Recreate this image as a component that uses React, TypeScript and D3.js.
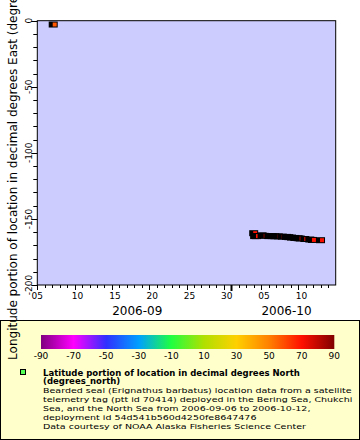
import React from "react";
import * as d3 from "d3";

// ---- data ----
const times = [
  "2006-09-07T08:00Z",
  "2006-10-04T05:00Z",
  "2006-10-04T08:00Z",
  "2006-10-04T14:00Z",
  "2006-10-05T08:00Z",
  "2006-10-05T15:00Z",
  "2006-10-06T05:30Z",
  "2006-10-06T16:30Z",
  "2006-10-07T01:00Z",
  "2006-10-07T12:00Z",
  "2006-10-08T01:00Z",
  "2006-10-08T14:30Z",
  "2006-10-08T22:00Z",
  "2006-10-09T06:40Z",
  "2006-10-09T17:20Z",
  "2006-10-10T04:00Z",
  "2006-10-10T10:30Z",
  "2006-10-11T01:30Z",
  "2006-10-11T17:30Z",
  "2006-10-12T02:00Z",
  "2006-10-13T04:00Z",
];
const lons = [
  -2.9, -160.8, -163.0, -163.0, -162.4, -162.8, -163.0, -163.0, -163.1, -163.2,
  -163.4, -163.6, -163.8, -164.1, -164.4, -164.6, -164.8, -165.2, -165.6, -165.9, -166.1,
];
const lats = [
  57.5, 69.6, 69.8, 69.7, 69.9, 70.0, 70.1, 70.0, 70.2, 70.3,
  70.4, 70.3, 70.5, 70.6, 70.4, 70.5, 70.6, 70.7, 70.8, 70.6, 70.9,
];

const colorStops = [
  "#800080", "#ff00ff", "#3030ff", "#00a0ff", "#20ff40",
  "#b0e000", "#ffd000", "#ff8000", "#ff1000", "#800000",
];
const colorTickValues = [-90, -70, -50, -30, -10, 10, 30, 50, 70, 90];
const yLabelValues = [0, -50, -100, -150, -200];
const xLabelDays = [5, 10, 15, 20, 25, 30];

const legendTitle = ["Latitude portion of location in decimal degrees North", "(degrees_north)"];
const legendLines = [
  "Bearded seal (Erignathus barbatus) location data from a satellite",
  "telemetry tag (ptt id 70414) deployed in the Bering Sea, Chukchi",
  "Sea, and the North Sea from 2006-09-06 to 2006-10-12,",
  "deployment id 54d541b560d4250fe8647476",
  "Data courtesy of NOAA Alaska Fisheries Science Center",
];
const yTitle = "Longitude portion of location in decimal degrees East (degrees_east)";

const FONT = "DejaVu Sans";

export default function App() {
  const W = 360, H = 440;
  const L = 37.3, R = 335.7, T = 20.7, B = 285;
  const x = d3.scaleUtc()
    .domain([new Date("2006-09-05T00:00Z"), new Date("2006-10-15T00:00Z")])
    .range([L, R]);
  const y = d3.scaleLinear().domain([-200, 0]).range([B, T]);

  const colorDomain = d3.range(colorStops.length).map(i => -90 + (180 * i) / (colorStops.length - 1));
  const color = d3.scaleLinear<string>().domain(colorDomain).range(colorStops).interpolate(d3.interpolateRgb).clamp(true);

  const cbL = 41, cbR = 334.3, cbT = 335, cbB = 349;
  const cbx = d3.scaleLinear().domain([-90, 90]).range([cbL, cbR]);

  const days = d3.utcDay.range(x.domain()[0], x.domain()[1]);
  const yMinor = d3.range(-200, 1, 10);

  const parse = (s: string) => new Date(s);
  const pts = times.map((t, i) => ({ t: parse(t), lon: lons[i], lat: lats[i] }));

  const months = d3.utcMonth.range(d3.utcMonth.floor(x.domain()[0]), x.domain()[1]);
  const fmtMonth = d3.utcFormat("%Y-%m");

  const gradId = "cbgrad";

  return (
    <svg width={W} height={H} style={{ position: "absolute", left: 0, top: 0, background: "#fff" }} fontFamily={FONT}>
      <defs>
        <linearGradient id={gradId} x1="0" x2="1" y1="0" y2="0">
          {colorStops.map((c, i) => (
            <stop key={i} offset={i / (colorStops.length - 1)} stopColor={c} />
          ))}
        </linearGradient>
        <clipPath id="plotclip">
          <rect x={L} y={T} width={R - L} height={B - T} />
        </clipPath>
      </defs>

      {/* plot area */}
      <rect x={L} y={T} width={R - L} height={B - T} fill="#ccccff" />

      {/* markers */}
      <g clipPath="url(#plotclip)">
        {pts.map((p, i) => {
          const cx = x(p.t), cy = y(p.lon);
          return (
            <g key={i}>
              <rect x={cx - 6} y={cy - 3} width={9} height={6} fill="#000" />
              <rect x={cx - 2} y={cy - 2} width={4} height={4} fill={color(p.lat)} />
            </g>
          );
        })}
      </g>

      <rect x={L} y={T} width={R - L} height={B - T} fill="none" stroke="#000" strokeWidth={1} />

      {/* x axis ticks */}
      {days.map((d, i) => {
        const xd = Math.round(x(d)) + 0.5;
        const dom = d.getUTCDate();
        const isMonth = dom === 1;
        const major = xLabelDays.includes(dom);
        const len = isMonth ? 6 : major ? 5 : 3;
        return (
          <line key={i} x1={xd} x2={xd} y1={B} y2={B + len} stroke="#000" strokeWidth={isMonth ? 2 : 1} />
        );
      })}
      {days.filter(d => xLabelDays.includes(d.getUTCDate())).map((d, i) => (
        <text key={i} x={x(d) + (i === 0 ? 0 : 3)} y={299} fontSize={9} textAnchor="middle" fill="#000">
          {d3.utcFormat("%d")(d)}
        </text>
      ))}
      {months.map((m, i) => {
        const a = Math.max(x(m), L);
        const b = Math.min(x(d3.utcMonth.offset(m, 1)), R);
        return (
          <text key={i} x={(a + b) / 2 + 3} y={315} fontSize={12} textAnchor="middle" fill="#000">
            {fmtMonth(m)}
          </text>
        );
      })}

      {/* y axis ticks */}
      {yMinor.map((v, i) => {
        const yy = Math.round(y(v)) + 0.5;
        const major = v % 50 === 0;
        return <line key={i} x1={L - (major ? 6 : 4)} x2={L} y1={yy} y2={yy} stroke="#000" />;
      })}
      {yLabelValues.map((v, i) => (
        <text key={i} transform={`translate(${32},${y(v)}) rotate(-90)`} fontSize={9} textAnchor="middle" fill="#000">
          {v}
        </text>
      ))}

      {/* legend panel */}
      <rect x={0.5} y={320.5} width={359} height={119} fill="#ffffcc" stroke="#000" />
      <rect x={cbL} y={cbT} width={cbR - cbL} height={cbB - cbT} fill={`url(#${gradId})`} />
      {colorTickValues.map((v, i) => (
        <text key={i} x={cbx(v)} y={359} fontSize={9} textAnchor="middle" fill="#000">
          {v}
        </text>
      ))}
      <rect x={20.5} y={369.5} width={5} height={5} fill="#55ff55" stroke="#000" />
      {legendTitle.map((s, i) => (
        <text key={i} transform={`translate(43,${375.5 + i * 8.8}) scale(1.08,1)`} fontSize={7.9} fontWeight="bold" fill="#000">{s}</text>
      ))}
      {legendLines.map((s, i) => (
        <text key={i} transform={`translate(43,${393 + i * 8.9}) scale(1.25,1)`} fontSize={7.6} fill="#000">{s}</text>
      ))}

      {/* y axis title (drawn over the legend like the original) */}
      <text transform={`translate(${16.5},${(T + B) / 2}) rotate(-90)`} fontSize={12} textAnchor="middle" fill="#000">
        {yTitle}
      </text>
    </svg>
  );
}
